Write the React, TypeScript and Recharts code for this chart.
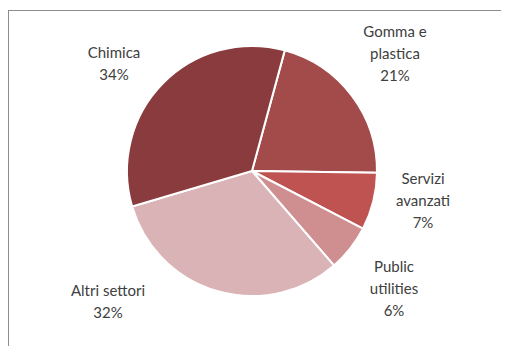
import React from "react";
import { PieChart, Pie, Cell } from "recharts";

const SECTORS = ["Gomma e plastica", "Servizi avanzati", "Public utilities", "Altri settori", "Chimica"];
const SHARES = [21.0, 7.4, 6.0, 31.8, 33.8];
const LABEL_LINES = [["Gomma e", "plastica"], ["Servizi", "avanzati"], ["Public", "utilities"], ["Altri settori"], ["Chimica"]];
const COLORS = ["#A34A4A", "#BE5352", "#CF8F91", "#D9B3B6", "#8A3B3D"];

// label block centres relative to the pie centre (Excel best-fit placement)
const LABEL_OFFSETS = [
  [143, -118],
  [171, 29],
  [142, 117],
  [-144, 130],
  [-138, -108],
];

const data = SECTORS.map((name, i) => ({ name, value: SHARES[i] }));

const LINE_H = 22;

function renderLabel(props: any) {
  const { cx, cy, index, percent } = props;
  const [dx, dy] = LABEL_OFFSETS[index];
  const lines = [...LABEL_LINES[index], `${Math.round(percent * 100)}%`];
  const top = cy + dy - ((lines.length - 1) * LINE_H) / 2;
  return (
    <text
      x={cx + dx}
      y={top}
      textAnchor="middle"
      dominantBaseline="central"
      fill="#404040"
      fontSize={15}
      fontFamily="Lato, 'Open Sans', sans-serif"
    >
      {lines.map((l, i) => (
        <tspan key={i} x={cx + dx} y={top + i * LINE_H}>
          {l}
        </tspan>
      ))}
    </text>
  );
}

export default function App() {
  return (
    <div style={{ position: "relative", width: 501, height: 338 }}>
      <style>{"html, body { overflow: hidden; }"}</style>
      <div
        style={{
          position: "absolute",
          left: 0,
          top: 2,
          width: 530,
          height: 370,
          borderLeft: "1px solid #8c8c8c",
          borderTop: "1px solid #8c8c8c",
          boxSizing: "border-box",
        }}
      />
      <div style={{ position: "absolute", left: 0, top: 0 }}>
        <PieChart width={501} height={338} margin={{ top: 0, right: 0, bottom: 0, left: 0 }}>
          <Pie
            data={data}
            dataKey="value"
            nameKey="name"
            cx={244}
            cy={163}
            outerRadius={125}
            startAngle={74.8}
            endAngle={-285.2}
            stroke="#ffffff"
            strokeWidth={2}
            label={renderLabel}
            labelLine={false}
            isAnimationActive={false}
          >
            {data.map((d, i) => (
              <Cell key={d.name} fill={COLORS[i]} />
            ))}
          </Pie>
        </PieChart>
      </div>
    </div>
  );
}
